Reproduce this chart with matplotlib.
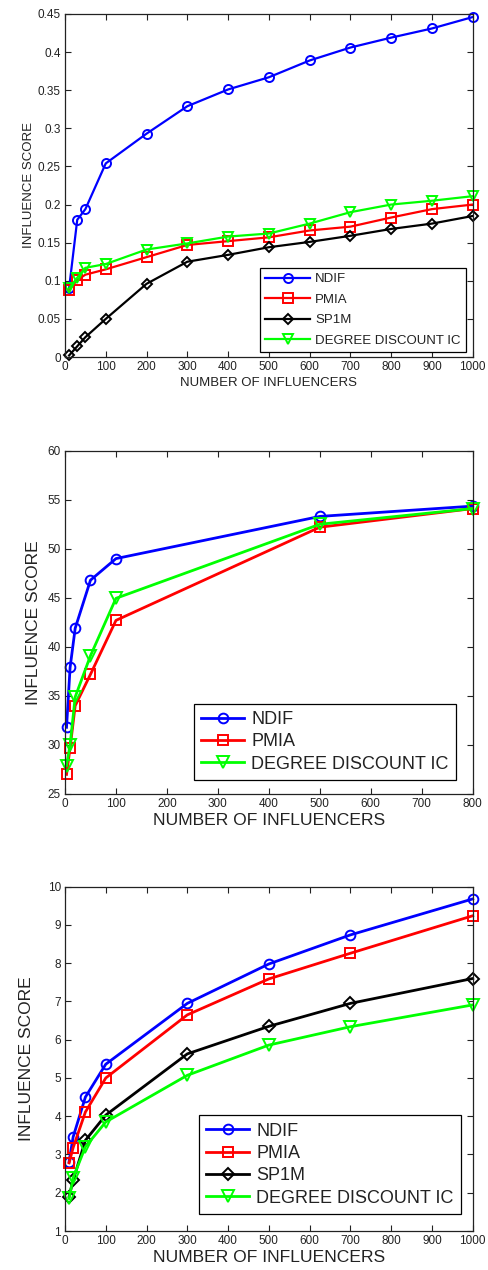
import matplotlib
matplotlib.use("Agg")
import matplotlib.pyplot as plt

plt.rcParams["font.family"] = ["Liberation Sans", "DejaVu Sans"]
plt.rcParams["text.color"] = "#222222"
plt.rcParams["axes.labelcolor"] = "#222222"
plt.rcParams["xtick.color"] = "#222222"
plt.rcParams["ytick.color"] = "#222222"

# ── panel 1 ─────────────────────────────────────────────
k1 = [10, 30, 50, 100, 200, 300, 400, 500, 600, 700, 800, 900, 1000]
ndif1 = [0.090, 0.180, 0.194, 0.254, 0.293, 0.329, 0.351, 0.367, 0.389, 0.406, 0.419, 0.431, 0.446]
pmia1 = [0.088, 0.101, 0.108, 0.115, 0.131, 0.147, 0.152, 0.157, 0.166, 0.171, 0.183, 0.194, 0.200]
sp1m1 = [0.002, 0.014, 0.026, 0.050, 0.096, 0.125, 0.134, 0.144, 0.151, 0.159, 0.168, 0.175, 0.185]
ddic1 = [0.090, 0.104, 0.117, 0.122, 0.141, 0.149, 0.158, 0.162, 0.175, 0.190, 0.200, 0.205, 0.211]

# ── panel 2 ─────────────────────────────────────────────
k2 = [3, 10, 20, 50, 100, 500, 800]
ndif2 = [31.8, 37.9, 41.9, 46.8, 49.0, 53.3, 54.35]
pmia2 = [27.0, 29.7, 34.0, 37.2, 42.7, 52.2, 54.1]
ddic2 = [27.9, 30.0, 34.9, 39.1, 44.95, 52.5, 54.1]

# ── panel 3 ─────────────────────────────────────────────
k3 = [10, 20, 50, 100, 300, 500, 700, 1000]
ndif3 = [2.81, 3.46, 4.50, 5.36, 6.95, 7.98, 8.74, 9.68]
pmia3 = [2.78, 3.18, 4.11, 5.00, 6.65, 7.59, 8.26, 9.24]
sp1m3 = [1.90, 2.33, 3.37, 4.03, 5.63, 6.35, 6.95, 7.60]
ddic3 = [1.85, 2.39, 3.20, 3.85, 5.07, 5.86, 6.34, 6.91]

W, H = 488, 1270
fig = plt.figure(figsize=(W / 100, H / 100), dpi=100)


def make_axes(top, bottom, left=65, right=472.7):
    return fig.add_axes([left / W, 1 - bottom / H, (right - left) / W, (bottom - top) / H])


def style(ax, tick_fs):
    ax.tick_params(direction="in", length=4, width=0.8, top=True, right=True,
                   labelsize=tick_fs, pad=3)
    for s in ax.spines.values():
        s.set_linewidth(0.9)
        s.set_color("#222222")


def series(ax, x, y, color, marker, lw, ms, label):
    ax.plot(x, y, color=color, marker=marker, lw=lw, ms=ms, mew=1.4,
            mfc="none", mec=color, label=label, clip_on=False)


def legend(ax, right, bottom, fs, hl, ls):
    leg = ax.legend(loc="lower right", bbox_to_anchor=(right / W, 1 - bottom / H),
                    bbox_transform=fig.transFigure, fontsize=fs, handlelength=hl,
                    fancybox=False, framealpha=1, edgecolor="black",
                    borderaxespad=0, labelspacing=ls, borderpad=0.4,
                    handletextpad=0.4)
    leg.get_frame().set_linewidth(0.9)


# panel 1
ax1 = make_axes(14, 357)
series(ax1, k1, ndif1, "#0000ff", "o", 1.6, 6.5, "NDIF")
series(ax1, k1, pmia1, "#ff0000", "s", 1.6, 6.5, "PMIA")
series(ax1, k1, sp1m1, "#000000", "D", 1.6, 5.5, "SP1M")
series(ax1, k1, ddic1, "#00ff00", "v", 1.6, 7, "DEGREE DISCOUNT IC")
ax1.set_xlim(0, 1000)
ax1.set_ylim(0, 0.45)
ax1.set_xticks(range(0, 1001, 100))
ax1.set_yticks([0, 0.05, 0.1, 0.15, 0.2, 0.25, 0.3, 0.35, 0.4, 0.45])
ax1.set_yticklabels(["0", "0.05", "0.1", "0.15", "0.2", "0.25", "0.3", "0.35", "0.4", "0.45"])
style(ax1, 8.5)
ax1.set_xlabel("NUMBER OF INFLUENCERS", fontsize=9.5, labelpad=3)
ax1.set_ylabel("INFLUENCE SCORE", fontsize=9.5, labelpad=2)
legend(ax1, 466, 352, 9.5, 3.4, 0.62)

# panel 2
ax2 = make_axes(450.7, 794)
series(ax2, k2, ndif2, "#0000ff", "o", 2.0, 7, "NDIF")
series(ax2, k2, pmia2, "#ff0000", "s", 2.0, 7, "PMIA")
series(ax2, k2, ddic2, "#00ff00", "v", 2.0, 8, "DEGREE DISCOUNT IC")
ax2.set_xlim(0, 800)
ax2.set_ylim(25, 60)
ax2.set_xticks(range(0, 801, 100))
ax2.set_yticks(range(25, 61, 5))
style(ax2, 8.5)
ax2.set_xlabel("NUMBER OF INFLUENCERS", fontsize=12.6, labelpad=2)
ax2.set_ylabel("INFLUENCE SCORE", fontsize=12.5, labelpad=5)
legend(ax2, 456, 780, 13, 2.4, 0.3)

# panel 3
ax3 = make_axes(886.7, 1231)
series(ax3, k3, ndif3, "#0000ff", "o", 2.0, 7, "NDIF")
series(ax3, k3, pmia3, "#ff0000", "s", 2.0, 7, "PMIA")
series(ax3, k3, sp1m3, "#000000", "D", 2.0, 6, "SP1M")
series(ax3, k3, ddic3, "#00ff00", "v", 2.0, 8, "DEGREE DISCOUNT IC")
ax3.set_xlim(0, 1000)
ax3.set_ylim(1, 10)
ax3.set_xticks(range(0, 1001, 100))
ax3.set_yticks(range(1, 11))
style(ax3, 8.5)
ax3.set_xlabel("NUMBER OF INFLUENCERS", fontsize=12.6, labelpad=2)
ax3.set_ylabel("INFLUENCE SCORE", fontsize=12.5, labelpad=10)
legend(ax3, 461, 1214, 13, 2.4, 0.3)

fig.savefig("out.png", dpi=100, facecolor="white")
